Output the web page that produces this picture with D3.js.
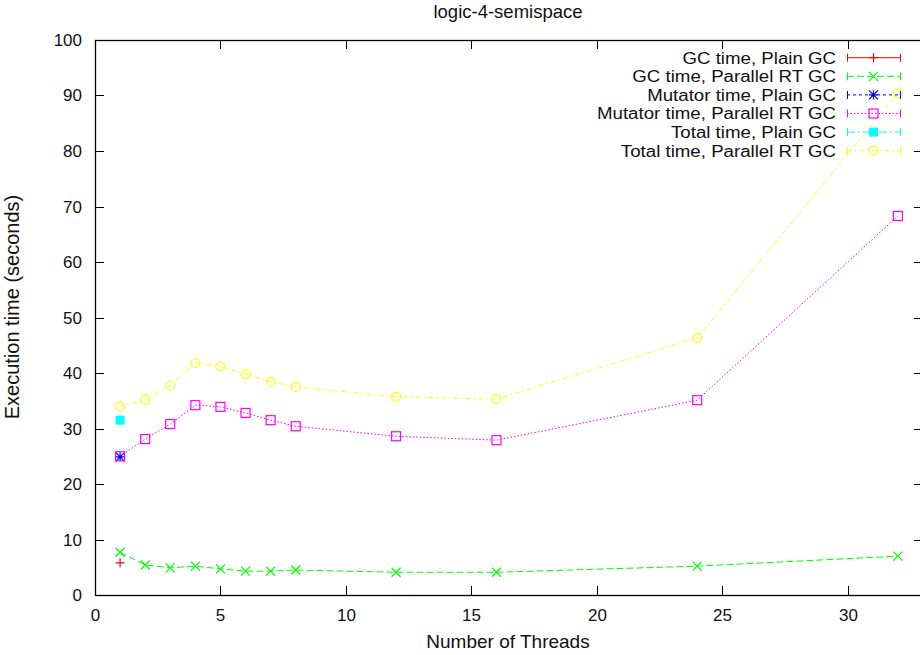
<!DOCTYPE html>
<html><head><meta charset="utf-8">
<script src="https://cdn.jsdelivr.net/npm/d3@7"></script>
<style>body{margin:0;background:#fff}svg{display:block}text{font-family:"Liberation Sans",Arial,sans-serif;fill:#111}</style>
</head><body><svg id="c" width="920" height="655"></svg>
<script>
const threads = [1,2,3,4,5,6,7,8,12,16,24,32];
const gcPlain = [5.8];
const gcParallel = [7.7,5.4,4.9,5.2,4.7,4.3,4.3,4.5,4.1,4.1,5.2,7.0];
const mutPlain = [24.9];
const mutParallel = [25.0,28.1,30.8,34.2,33.9,32.8,31.5,30.4,28.6,27.9,35.1,68.3];
const totPlain = [31.5];
const totParallel = [34.0,35.2,37.7,41.8,41.2,39.8,38.4,37.5,35.7,35.3,46.3,90.5];
const plainThreads = [1];
const xTicks = [0,5,10,15,20,25,30];
const yTicks = [0,10,20,30,40,50,60,70,80,90,100];
const seriesNames = ["GC time, Plain GC","GC time, Parallel RT GC","Mutator time, Plain GC","Mutator time, Parallel RT GC","Total time, Plain GC","Total time, Parallel RT GC"];

const series = [
  {name:seriesNames[0], xs:plainThreads, ys:gcPlain, color:"#ff0000", dash:null, marker:"plus"},
  {name:seriesNames[1], xs:threads, ys:gcParallel, color:"#00ff00", dash:"7,3", marker:"cross"},
  {name:seriesNames[2], xs:plainThreads, ys:mutPlain, color:"#0000ff", dash:"3,3", marker:"star"},
  {name:seriesNames[3], xs:threads, ys:mutParallel, color:"#ff00ff", dash:"1.5,2", marker:"square"},
  {name:seriesNames[4], xs:plainThreads, ys:totPlain, color:"#00ffff", dash:"8,3,2,3", marker:"fsquare"},
  {name:seriesNames[5], xs:threads, ys:totParallel, color:"#ffff00", dash:"5,3,1.5,3", marker:"circle"}
];

const svg = d3.select("#c");
const L=95, R=923, T=40, B=595;
const x = d3.scaleLinear().domain([0,33]).range([L,R]);
const y = d3.scaleLinear().domain([0,100]).range([B,T]);

// title & labels
svg.append("text").attr("x",508).attr("y",18).attr("text-anchor","middle").style("font-size","18.5px").text("logic-4-semispace");
svg.append("text").attr("x",508).attr("y",648).attr("text-anchor","middle").style("font-size","19px").text("Number of Threads");
svg.append("text").attr("transform","translate(19,307) rotate(-90)").attr("text-anchor","middle").style("font-size","20px").text("Execution time (seconds)");

// axes (ticks inward, mirrored)
const tl = 9;
const g = svg.append("g");
yTicks.forEach(v=>{
  const yy=Math.round(y(v))+0.5;
  g.append("line").attr("x1",L).attr("x2",L+tl).attr("y1",yy).attr("y2",yy).attr("stroke","#000");
  g.append("line").attr("x1",R-tl).attr("x2",R).attr("y1",yy).attr("y2",yy).attr("stroke","#000");
  g.append("text").attr("x",82).attr("y",yy+5.5).attr("text-anchor","end").style("font-size","17px").text(v);
});
xTicks.forEach(v=>{
  const xx=Math.round(x(v))+0.5;
  g.append("line").attr("x1",xx).attr("x2",xx).attr("y1",B).attr("y2",B-tl).attr("stroke","#000");
  g.append("line").attr("x1",xx).attr("x2",xx).attr("y1",T).attr("y2",T+tl).attr("stroke","#000");
  g.append("text").attr("x",xx).attr("y",621).attr("text-anchor","middle").style("font-size","17px").text(v);
});
svg.append("rect").attr("x",L+0.5).attr("y",T+0.5).attr("width",R-L).attr("height",B-T).attr("fill","none").attr("stroke","#000").attr("stroke-width",1.3);

function marker(sel, type, cx, cy, color){
  const s=4.5;
  const gg=sel.append("g").attr("transform",`translate(${cx},${cy})`).attr("stroke",color).attr("fill","none").attr("stroke-width",1.2);
  if(type==="plus"){gg.append("path").attr("d",`M${-s},0H${s}M0,${-s}V${s}`);}
  else if(type==="cross"){gg.append("path").attr("d",`M${-s},${-s}L${s},${s}M${-s},${s}L${s},${-s}`);}
  else if(type==="star"){gg.append("path").attr("d",`M${-s},0H${s}M0,${-s}V${s}M${-s},${-s}L${s},${s}M${-s},${s}L${s},${-s}`);}
  else if(type==="square"){gg.append("rect").attr("x",-s).attr("y",-s).attr("width",2*s).attr("height",2*s);}
  else if(type==="fsquare"){gg.append("rect").attr("x",-s).attr("y",-s).attr("width",2*s).attr("height",2*s).attr("fill",color).attr("stroke","none");}
  else if(type==="circle"){gg.append("circle").attr("r",s);}
}

const line = d3.line().x(d=>x(d[0])).y(d=>y(d[1]));
const plot = svg.append("g");
series.forEach(s=>{
  const pts = s.xs.map((v,i)=>[v,s.ys[i]]);
  if(pts.length>1) plot.append("path").attr("d",line(pts)).attr("fill","none").attr("stroke",s.color).attr("stroke-width",1).attr("stroke-dasharray",s.dash);
});
series.forEach(s=>{
  s.xs.forEach((v,i)=>marker(plot, s.marker, x(v), y(s.ys[i]), s.color));
});

// legend
const lg = svg.append("g");
const legTexts = [];
series.forEach((s,i)=>{
  const yy = 57.7 + i*18.6;
  legTexts.push(lg.append("text").attr("x",836).attr("y",yy+5.8).attr("text-anchor","end").style("font-size","16px").text(s.name));
  lg.append("line").attr("x1",847).attr("x2",900).attr("y1",yy).attr("y2",yy).attr("stroke",s.color).attr("stroke-dasharray",s.dash);
  lg.append("line").attr("x1",847.5).attr("x2",847.5).attr("y1",yy-4).attr("y2",yy+4).attr("stroke",s.color);
  lg.append("line").attr("x1",900.5).attr("x2",900.5).attr("y1",yy-4).attr("y2",yy+4).attr("stroke",s.color);
  marker(lg, s.marker, 873.5, yy, s.color);
});
const longest = d3.max(legTexts, t=>t.node().getComputedTextLength());
const k = 239/longest;
legTexts.forEach(t=>{
  const w = t.node().getComputedTextLength();
  t.attr("textLength", w*k).attr("lengthAdjust","spacingAndGlyphs");
});
</script></body></html>
